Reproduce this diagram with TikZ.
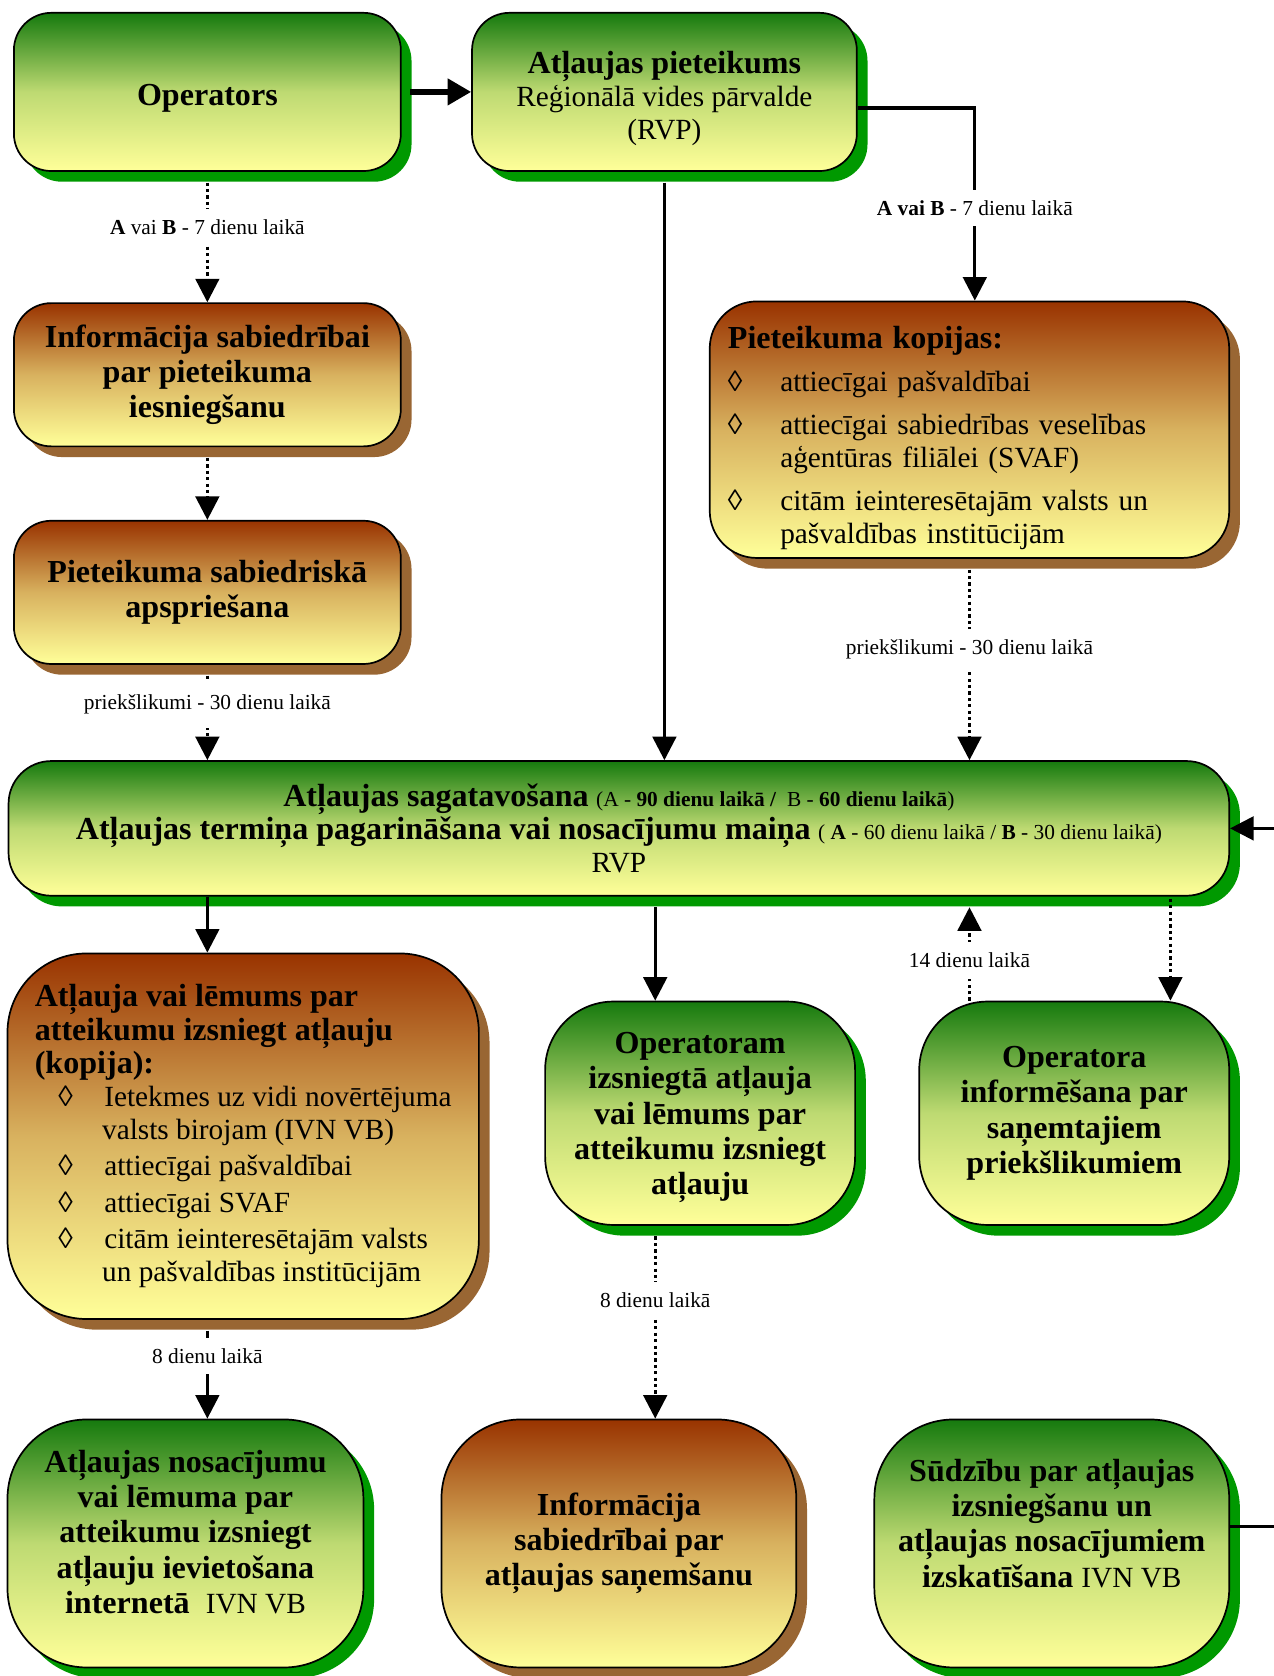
\documentclass[tikz,border=0pt]{standalone}
\usepackage{fontspec}
\setmainfont{Liberation Serif}
\usetikzlibrary{positioning, shadows, arrows.meta}

\definecolor{grtop}{RGB}{22,122,14}
\definecolor{brtop}{RGB}{153,51,0}
\definecolor{ylbot}{RGB}{255,255,153}
\definecolor{grshadow}{RGB}{0,153,0}
\definecolor{brshadow}{RGB}{153,102,51}

\newcommand{\hdfont}{\fontsize{15}{16.5}\selectfont\bfseries}
\newcommand{\bdfont}{\fontsize{13.7}{15.5}\selectfont}
\newcommand{\smfont}{\fontsize{10}{12}\selectfont}

\tikzset{
box/.style={draw, line width=0.8pt, rounded corners=#1, align=center, inner sep=0pt}, % rounded box
greenbox/.style={box=#1, bottom color=ylbot, top color=grtop, middle color=grtop!28!ylbot, drop shadow={shadow xshift=5pt, shadow yshift=-5pt, fill=grshadow, opacity=1}}, % green boxes
greenbox/.default=17.5pt,
brownbox/.style={box=#1, bottom color=ylbot, top color=brtop, middle color=brtop!38!ylbot, drop shadow={shadow xshift=5pt, shadow yshift=-5pt, fill=brshadow, opacity=1}}, % brown boxes
brownbox/.default=17.5pt,
solidarr/.style={line width=1.5pt, -{Triangle[length=11pt, width=11pt]}}, % solid connectors
dotarr/.style={solidarr, dash pattern=on 1.5pt off 1.5pt}, % dotted connectors
lbl/.style={fill=white, font=\smfont, inner xsep=2pt, inner ysep=5pt}, % labels on the connectors
}

\begin{document}
\begin{tikzpicture}[x=0.5pt, y=-0.5pt]
    \useasboundingbox (0,0) rectangle (1191,1568);

    % top row
    \node[greenbox, minimum width=181pt, minimum height=74pt, font=\hdfont] (op) at (194,86) {\rule{0pt}{15.5pt}Operators};
    \node[greenbox, minimum width=180pt, minimum height=74pt, font=\bdfont, right=32.5pt of op] (piet) {\rule{0pt}{16.5pt}{\hdfont Atļaujas pieteikums}\\ Reģionālā vides pārvalde\\ (RVP)};

    % left column
    \node[brownbox, minimum width=181pt, minimum height=67pt, font=\hdfont, below=61pt of op] (info1) {Informācija sabiedrībai\\ par pieteikuma\\ iesniegšanu};
    \node[brownbox, minimum width=181pt, minimum height=67pt, font=\hdfont, below=34pt of info1] (apsp) {Pieteikuma sabiedriskā\\ apspriešana};

    \node[brownbox=22pt, minimum width=243pt, minimum height=120pt, text width=226pt, align=left, font=\bdfont] (kop) at (907,402) {\rule{0pt}{18pt}{\hdfont Pieteikuma kopijas:}\\[5pt]
        \makebox[24.5pt][l]{◊}attiecīgai pašvaldībai\\[4.5pt]
        \makebox[24.5pt][l]{◊}attiecīgai sabiedrības veselības\\
        \hspace*{24.5pt}aģentūras filiālei (SVAF)\\[4.5pt]
        \makebox[24.5pt][l]{◊}citām ieinteresētajām valsts un\\
        \hspace*{24.5pt}pašvaldības institūcijām};

    % the main step
    \node[greenbox=20pt, minimum width=571pt, minimum height=63pt, font=\bdfont] (main) at (579,775) {{\hdfont Atļaujas sagatavošana} {\smfont (A - \textbf{90 dienu laikā /}~~B - \textbf{60 dienu laikā})}\\
        {\hdfont Atļaujas termiņa pagarināšana vai nosacījumu maiņa} {\smfont ( \textbf{A} - 60 dienu laikā / \textbf{B} - 30 dienu laikā)}\\
        RVP};

    % decisions
    \node[brownbox=37pt, minimum width=220.5pt, minimum height=171pt, align=left, font=\bdfont] (lem) at (227.5,1063) {{\hdfont Atļauja vai lēmums par}\\ {\hdfont atteikumu izsniegt atļauju}\\ {\hdfont (kopija):}\\
        \hspace*{11pt}\makebox[21.5pt][l]{◊}Ietekmes uz vidi novērtējuma\\
        \hspace*{31.5pt}valsts birojam (IVN VB)\\[1.5pt]
        \hspace*{11pt}\makebox[21.5pt][l]{◊}attiecīgai pašvaldībai\\[1.5pt]
        \hspace*{11pt}\makebox[21.5pt][l]{◊}attiecīgai SVAF\\[1.5pt]
        \hspace*{11pt}\makebox[21.5pt][l]{◊}citām ieinteresētajām valsts\\
        \hspace*{31.5pt}un pašvaldības institūcijām};
    \node[greenbox=32pt, minimum width=145pt, minimum height=104.5pt, font=\hdfont] (opat) at (655,1041.5) {\rule{0pt}{14pt}Operatoram\\ izsniegtā atļauja\\ vai lēmums par\\ atteikumu izsniegt\\ atļauju};
    \node[greenbox=32pt, minimum width=145pt, minimum height=104.5pt, font=\hdfont] (opinf) at (1005,1041.5) {Operatora\\ informēšana par\\ saņemtajiem\\ priekšlikumiem};

    % bottom row
    \node[greenbox=37pt, minimum width=166.5pt, minimum height=116pt, font=\hdfont] (nos) at (173.5,1444) {Atļaujas nosacījumu\\ vai lēmuma par\\ atteikumu izsniegt\\ atļauju ievietošana\\ internetā~~{\bdfont\mdseries IVN VB}\rule[-11pt]{0pt}{11pt}};
    \node[brownbox=37pt, minimum width=166pt, minimum height=116pt, font=\hdfont] (infat) at (579,1444) {Informācija\\ sabiedrībai par\\ atļaujas saņemšanu};
    \node[greenbox=37pt, minimum width=166pt, minimum height=116pt, font=\hdfont] (sudz) at (984,1444) {Sūdzību par atļaujas\\ izsniegšanu un\\ atļaujas nosacījumiem\\ izskatīšana {\bdfont\mdseries IVN VB}\rule[-19pt]{0pt}{19pt}};

    % connectors
    \draw[solidarr, line width=2.5pt, -{Triangle[length=11pt, width=12pt]}, shorten <=4pt] (op.east) -- (piet.west);
    \draw[solidarr] ([yshift=-7.5pt]piet.east) -| node[lbl, pos=0.76] {\textbf{A vai B} - 7 dienu laikā} ([xshift=2.5pt]kop.north);
    \draw[dotarr] ([yshift=-5pt]op.south) -- node[lbl, pos=0.375] {\textbf{A} vai \textbf{B} - 7 dienu laikā} (info1.north);
    \draw[dotarr] ([yshift=-5pt]info1.south) -- (apsp.north);
    \draw[dotarr] ([yshift=-5pt]apsp.south) -- node[lbl, pos=0.34, inner ysep=6.5pt] {priekšlikumi - 30 dienu laikā} (main.north -| apsp.south);
    \draw[solidarr] ([yshift=-5pt]piet.south) -- (main.north -| piet.south);
    \draw[dotarr] ([yshift=-5pt]kop.south) -- node[lbl, pos=0.42] {priekšlikumi - 30 dienu laikā} (main.north -| kop.south);

    \draw[solidarr] ([xshift=-192.5pt]main.south) -- ([xshift=-16.75pt]lem.north);
    \draw[solidarr] ([xshift=17pt, yshift=-5pt]main.south) -- ([xshift=-21pt]opat.north);
    \draw[dotarr] ([xshift=-49pt]opinf.north) -- node[lbl, pos=0.43] {14 dienu laikā} ([xshift=164pt, yshift=-5pt]main.south);
    \draw[dotarr] ([xshift=258pt, yshift=-1pt]main.south) -- ([xshift=45pt]opinf.north);

    \draw[solidarr] ([xshift=-16.75pt, yshift=-5pt]lem.south) -- node[lbl, pos=0.29] {8 dienu laikā} ([xshift=10.25pt]nos.north);
    \draw[dotarr] ([xshift=-21pt, yshift=-5pt]opat.south) -- node[lbl, pos=0.35] {8 dienu laikā} ([xshift=17pt]infat.north);
    \draw[solidarr] ([yshift=8pt]sudz.east) -- ++(40pt,0) |- (main.east);
\end{tikzpicture}
\end{document}
